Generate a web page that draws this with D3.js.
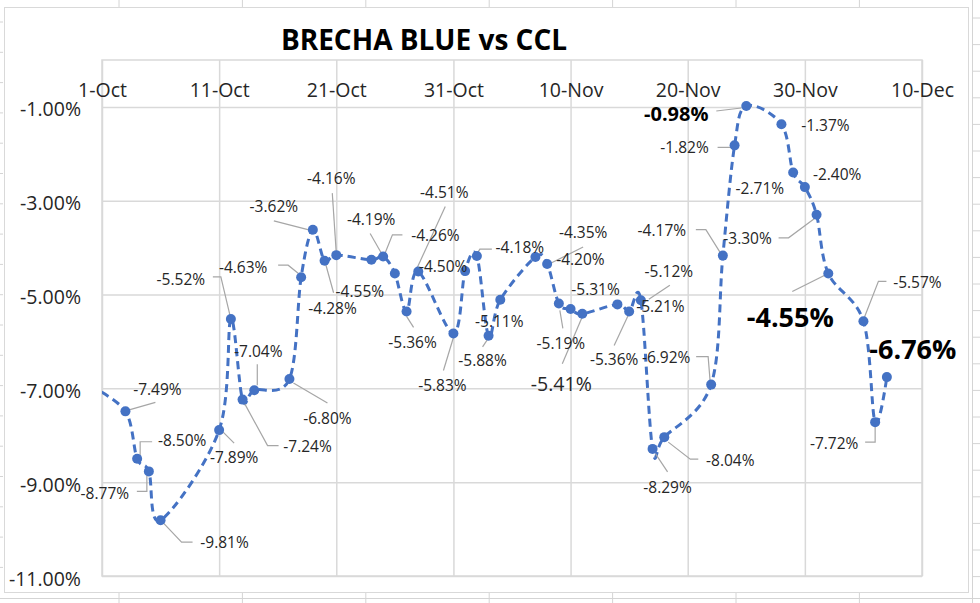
<!DOCTYPE html>
<html>
<head>
<meta charset="utf-8">
<script src="https://cdn.jsdelivr.net/npm/d3@7"></script>
<style>
  html, body { margin: 0; padding: 0; background: #fff; }
  svg { display: block; }
  text { font-family: "Open Sans", "Noto Sans", sans-serif; }
</style>
</head>
<body>
<svg id="chart" width="980" height="603"></svg>
<script>
// ---------------- data ----------------
const title = "BRECHA BLUE vs CCL";
const dates = [
  "2022-09-30",
  "2022-10-03","2022-10-04","2022-10-05","2022-10-06","2022-10-11","2022-10-12","2022-10-13","2022-10-14",
  "2022-10-17","2022-10-18","2022-10-19","2022-10-20","2022-10-21",
  "2022-10-24","2022-10-25","2022-10-26","2022-10-27","2022-10-28",
  "2022-10-31","2022-11-01","2022-11-02","2022-11-03","2022-11-04",
  "2022-11-07","2022-11-08","2022-11-09","2022-11-10","2022-11-11",
  "2022-11-14","2022-11-15","2022-11-16","2022-11-17","2022-11-18",
  "2022-11-22","2022-11-23","2022-11-24","2022-11-25",
  "2022-11-28","2022-11-29","2022-11-30","2022-12-01","2022-12-02",
  "2022-12-05","2022-12-06","2022-12-07"
];
const values = [
  -6.95,
  -7.49, -8.50, -8.77, -9.81, -7.89, -5.52, -7.24, -7.04,
  -6.80, -4.63, -3.62, -4.28, -4.16,
  -4.26, -4.19, -4.55, -5.36, -4.51,
  -5.83, -4.50, -4.18, -5.88, -5.11,
  -4.20, -4.35, -5.19, -5.31, -5.41,
  -5.21, -5.36, -5.12, -8.29, -8.04,
  -6.92, -4.17, -1.82, -0.98,
  -1.37, -2.40, -2.71, -3.30, -4.55,
  -5.57, -7.72, -6.76
];
const xTickDates = ["2022-10-01","2022-10-11","2022-10-21","2022-10-31","2022-11-10","2022-11-20","2022-11-30","2022-12-10"];
const yTickValues = [-1, -3, -5, -7, -9, -11];

// label layout (offsets of label centre from its point, leader elbows relative to the point, style)
const labelLayout = [
  null,
  {dx:32, dy:-22, lead:[[2,-1],[30,-9]]},
  {dx:45, dy:-18, lead:[[3,-2],[3,-17],[15,-17]]},
  {dx:-44, dy:22, lead:[[-2,4],[-2,20],[-12,20]]},
  {dx:64, dy:22, lead:[[1,1],[21,22],[32,22]]},
  {dx:15, dy:27, lead:[[4,2],[15,13]]},
  {dx:-50, dy:-40, lead:[[-1,-4],[-10,-42],[-18,-42]]},
  {dx:65, dy:47, lead:[[1,2],[25,46],[36,46]]},
  {dx:4, dy:-39, lead:[[3,-5],[3,-26]]},
  {dx:38, dy:39, lead:[[4,4],[38,24]]},
  {dx:-58, dy:-10, lead:[[-3,-4],[-13,-12],[-23,-12]]},
  {dx:-39, dy:-23, lead:[[-4,0],[-39,-9]]},
  {dx:8, dy:48, lead:[[1,3],[9,32]]},
  {dx:-5, dy:-77, lead:[[0,-2],[-4,-62]]},
  {dx:64, dy:-24, lead:[[13,-5],[21,-25],[31,-25]]},
  {dx:-12, dy:-37, lead:[[-1,-2],[-13,-23]]},
  {dx:-35, dy:18},
  {dx:6, dy:31, lead:[[0,5],[7,16]]},
  {dx:26, dy:-79, lead:[[-1,-4],[27,-65]]},
  {dx:-11, dy:52, lead:[[0,4],[-10,37]]},
  {dx:-22, dy:-5},
  {dx:43, dy:-9, lead:[[0,-2],[3,-7],[15,-7]]},
  {dx:-6, dy:25, lead:[[0,2],[-6,11]]},
  {dx:-1, dy:22},
  {dx:45, dy:2},
  {dx:36, dy:-32, lead:[[4,-1],[36,-17]]},
  {dx:2, dy:40, lead:[[1,7],[4,25]]},
  {dx:25, dy:-20},
  {dx:-21, dy:70, lead:[[0,3],[-20,50]], cls:"mid"},
  {dx:43, dy:2},
  {dx:-15, dy:48, lead:[[-1,4],[-15,34]]},
  {dx:28, dy:-29, lead:[[8,-1],[29,-15]]},
  {dx:15, dy:39, lead:[[3,5],[15,23]]},
  {dx:66, dy:23, lead:[[4,5],[26,22],[34,22]]},
  {dx:-45, dy:-27, lead:[[-1,-3],[-3,-28],[-15,-28]]},
  {dx:-61, dy:-25, lead:[[-2,-2],[-17,-26],[-27,-26]]},
  {dx:-50, dy:2, lead:[[-3,2],[-17,2]]},
  {dx:-70, dy:8, lead:[[-5,2],[-30,5]], cls:"boldS"},
  {dx:44, dy:1},
  {dx:44, dy:2},
  {dx:-45, dy:1},
  {dx:-69, dy:24, lead:[[-1,3],[-28,23],[-38,23]]},
  {dx:-38, dy:44, lead:[[-4,2],[-36,18]], cls:"boldL"},
  {dx:54, dy:-39, lead:[[1,-4],[15,-40],[23,-40]]},
  {dx:-41, dy:21, lead:[[0,3],[0,20],[-10,20]]},
  {dx:26, dy:-28, cls:"boldL"}
];

// ---------------- drawing ----------------
const svg = d3.select("#chart");
const W = 980, H = 603;
const plot = {l:102, r:922, t:60, b:576};
const parse = d3.utcParse("%Y-%m-%d");
const pct = v => v.toFixed(2) + "%";
const data = dates.map((d,i) => ({date: parse(d), v: values[i], lay: labelLayout[i]}));

const x = d3.scaleUtc().domain([parse("2022-10-01"), parse("2022-12-10")]).range([plot.l, plot.r]);
const y = d3.scaleLinear().domain([-11, 0]).range([plot.b, plot.t]);

// spreadsheet background grid (outside the chart area)
const sheet = svg.append("g").attr("stroke", "#d4d4d4").attr("stroke-width", 1);
const cols = d3.range(0, 8).map(k => 119 + k * 123.4);
cols.forEach(cx => {
  sheet.append("line").attr("x1", cx).attr("x2", cx).attr("y1", 0).attr("y2", 7);
  sheet.append("line").attr("x1", cx).attr("x2", cx).attr("y1", 592).attr("y2", 603);
});
sheet.append("line").attr("x1", 0).attr("x2", W).attr("y1", 598.5).attr("y2", 598.5);
sheet.append("line").attr("x1", 972.5).attr("x2", 972.5).attr("y1", 0).attr("y2", H);
d3.range(18, 600, 26.6).forEach(ry => {
  sheet.append("line").attr("x1", 972).attr("x2", W).attr("y1", ry).attr("y2", ry);
});
d3.range(22, 590, 30.3).forEach(ry => {
  sheet.append("line").attr("x1", 0).attr("x2", 3).attr("y1", ry).attr("y2", ry);
});

// chart area
svg.append("rect").attr("x", 4.5).attr("y", 7.5).attr("width", 964).attr("height", 585)
  .attr("fill", "#fff").attr("stroke", "#d9d9d9").attr("stroke-width", 1);

// title
svg.append("text").attr("x", 424).attr("y", 50).attr("text-anchor", "middle")
  .attr("font-size", 28).attr("font-weight", 700).attr("fill", "#000").text(title);

// gridlines
const grid = svg.append("g");
grid.append("g").attr("transform", `translate(0,${plot.b})`)
  .call(d3.axisBottom(x).tickValues(xTickDates.map(parse)).tickSize(-(plot.b - plot.t)).tickFormat(""))
  .call(g => g.select(".domain").remove())
  .call(g => g.selectAll("line").attr("stroke", "#d9d9d9").attr("stroke-width", 1.5));
grid.append("g").attr("transform", `translate(${plot.l},0)`)
  .call(d3.axisLeft(y).tickValues(yTickValues).tickSize(-(plot.r - plot.l)).tickFormat(""))
  .call(g => g.select(".domain").remove())
  .call(g => g.selectAll("line").attr("stroke", "#d9d9d9").attr("stroke-width", 1.5));
// plot border
svg.append("rect").attr("x", plot.l).attr("y", plot.t).attr("width", plot.r - plot.l).attr("height", plot.b - plot.t)
  .attr("fill", "none").attr("stroke", "#d9d9d9").attr("stroke-width", 1.5);

// axes labels
const fmtDate = d3.utcFormat("%-d-%b");
svg.append("g").attr("transform", `translate(0,${plot.t})`)
  .call(d3.axisBottom(x).tickValues(xTickDates.map(parse)).tickSize(0).tickPadding(0).tickFormat(fmtDate))
  .call(g => g.select(".domain").remove())
  .call(g => g.selectAll("text").attr("dy", null).attr("y", 37).attr("font-size", 19.5)
    .attr("fill", "#262626").style("font-family", '"Open Sans", sans-serif'));
svg.append("g").attr("transform", `translate(${plot.l},0)`)
  .call(d3.axisLeft(y).tickValues(yTickValues).tickSize(0).tickPadding(0).tickFormat(d => pct(d)))
  .call(g => g.select(".domain").remove())
  .call(g => g.selectAll("text").attr("dy", null).attr("x", -21).attr("y", 9).attr("font-size", 19.5)
    .attr("fill", "#262626").style("font-family", '"Open Sans", sans-serif'));

// clip
svg.append("clipPath").attr("id", "clip").append("rect")
  .attr("x", plot.l).attr("y", plot.t - 10).attr("width", plot.r - plot.l + 20).attr("height", plot.b - plot.t + 20);

// line
const line = d3.line().x(d => x(d.date)).y(d => y(d.v)).curve(d3.curveCardinal.tension(0));
svg.append("path").datum(data).attr("clip-path", "url(#clip)")
  .attr("d", line).attr("fill", "none").attr("stroke", "#4472C4").attr("stroke-width", 3)
  .attr("stroke-dasharray", "8,5");

// leader lines
const leaders = svg.append("g").attr("fill", "none").attr("stroke", "#a6a6a6").attr("stroke-width", 1.2);
data.forEach(d => {
  if (!d.lay || !d.lay.lead) return;
  const px = x(d.date), py = y(d.v);
  leaders.append("polyline")
    .attr("points", d.lay.lead.map(p => `${px + p[0]},${py + p[1]}`).join(" "));
});

// markers
svg.append("g").attr("clip-path", "url(#clip)").selectAll("circle").data(data).join("circle")
  .attr("cx", d => x(d.date)).attr("cy", d => y(d.v)).attr("r", 5).attr("fill", "#4472C4");

// data labels
const styles = {
  normal: {size: 15.5, weight: 400, fill: "#262626"},
  mid:    {size: 19.5, weight: 400, fill: "#262626"},
  boldS:  {size: 20, weight: 700, fill: "#000"},
  boldL:  {size: 27, weight: 700, fill: "#000"}
};
svg.append("g").selectAll("text").data(data.filter(d => d.lay)).join("text")
  .each(function(d) {
    const st = styles[d.lay.cls || "normal"];
    d3.select(this)
      .attr("x", x(d.date) + d.lay.dx)
      .attr("y", y(d.v) + d.lay.dy + st.size * 0.36)
      .attr("text-anchor", "middle")
      .attr("font-size", st.size).attr("font-weight", st.weight).attr("fill", st.fill)
      .text(pct(d.v));
  });
</script>
</body>
</html>
